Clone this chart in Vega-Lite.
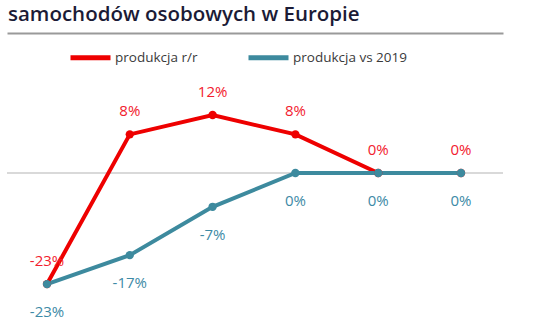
{
  "$schema": "https://vega.github.io/schema/vega-lite/v6.json",
  "width": 496,
  "height": 299,
  "autosize": "none",
  "padding": {"left": 7, "top": 33, "right": 33, "bottom": 0},
  "background": "white",
  "config": {
    "view": {"stroke": null},
    "font": "Open Sans"
  },
  "title": {
    "text": "samochodów osobowych w Europie",
    "anchor": "start",
    "frame": "group",
    "fontSize": 20.5,
    "fontWeight": 600,
    "color": "#1b1b36",
    "font": "Open Sans",
    "offset": 8,
    "dx": 1
  },
  "data": {
    "values": [
      {"i": 0, "series": "produkcja r/r", "value": -23, "label": "-23%"},
      {"i": 1, "series": "produkcja r/r", "value": 8, "label": "8%"},
      {"i": 2, "series": "produkcja r/r", "value": 12, "label": "12%"},
      {"i": 3, "series": "produkcja r/r", "value": 8, "label": "8%"},
      {"i": 4, "series": "produkcja r/r", "value": 0, "label": "0%"},
      {"i": 5, "series": "produkcja r/r", "value": 0, "label": "0%"},
      {"i": 0, "series": "produkcja vs 2019", "value": -23, "label": "-23%"},
      {"i": 1, "series": "produkcja vs 2019", "value": -17, "label": "-17%"},
      {"i": 2, "series": "produkcja vs 2019", "value": -7, "label": "-7%"},
      {"i": 3, "series": "produkcja vs 2019", "value": 0, "label": "0%"},
      {"i": 4, "series": "produkcja vs 2019", "value": 0, "label": "0%"},
      {"i": 5, "series": "produkcja vs 2019", "value": 0, "label": "0%"}
    ]
  },
  "layer": [
    {
      "mark": {"type": "rule", "color": "#d9d9d9", "strokeWidth": 2},
      "encoding": {"y": {"datum": 0, "type": "quantitative", "scale": {"domain": [-32.92, 28.99]}, "axis": null}}
    },
    {
      "mark": {"type": "line", "strokeWidth": 4, "point": {"size": 70, "filled": true}},
      "encoding": {
        "x": {"field": "i", "type": "quantitative", "scale": {"domain": [-0.483, 5.507], "nice": false, "zero": false},
              "axis": {"orient": "top", "domainColor": "#9a9a9a", "domainWidth": 2, "ticks": false, "labels": false, "grid": false, "title": null}},
        "y": {"field": "value", "type": "quantitative", "scale": {"domain": [-32.92, 28.99], "nice": false, "zero": false}, "axis": null},
        "color": {
          "field": "series", "type": "nominal",
          "scale": {"domain": ["produkcja r/r", "produkcja vs 2019"], "range": ["#ee0000", "#3d8a9e"]},
          "legend": {
            "title": null,
            "orient": "none",
            "direction": "horizontal",
            "legendX": 61,
            "legendY": 2,
            "symbolType": "stroke",
            "symbolSize": 1600,
            "symbolStrokeWidth": 5,
            "labelFontSize": 13.5,
            "labelFont": "Open Sans",
            "labelColor": "#3a3a3a",
            "labelOffset": 2,
            "columnPadding": 40
          }
        },
        "order": {"field": "i"}
      }
    },
    {
      "transform": [{"filter": "datum.series === 'produkcja r/r'"}],
      "mark": {"type": "text", "fontSize": 15, "dy": -23, "color": "#f2202e", "font": "Open Sans"},
      "encoding": {
        "x": {"field": "i", "type": "quantitative"},
        "y": {"field": "value", "type": "quantitative"},
        "text": {"field": "label"}
      }
    },
    {
      "transform": [{"filter": "datum.series === 'produkcja vs 2019'"}],
      "mark": {"type": "text", "fontSize": 15, "dy": 28, "color": "#3d8aa6", "font": "Open Sans"},
      "encoding": {
        "x": {"field": "i", "type": "quantitative"},
        "y": {"field": "value", "type": "quantitative"},
        "text": {"field": "label"}
      }
    }
  ]
}
